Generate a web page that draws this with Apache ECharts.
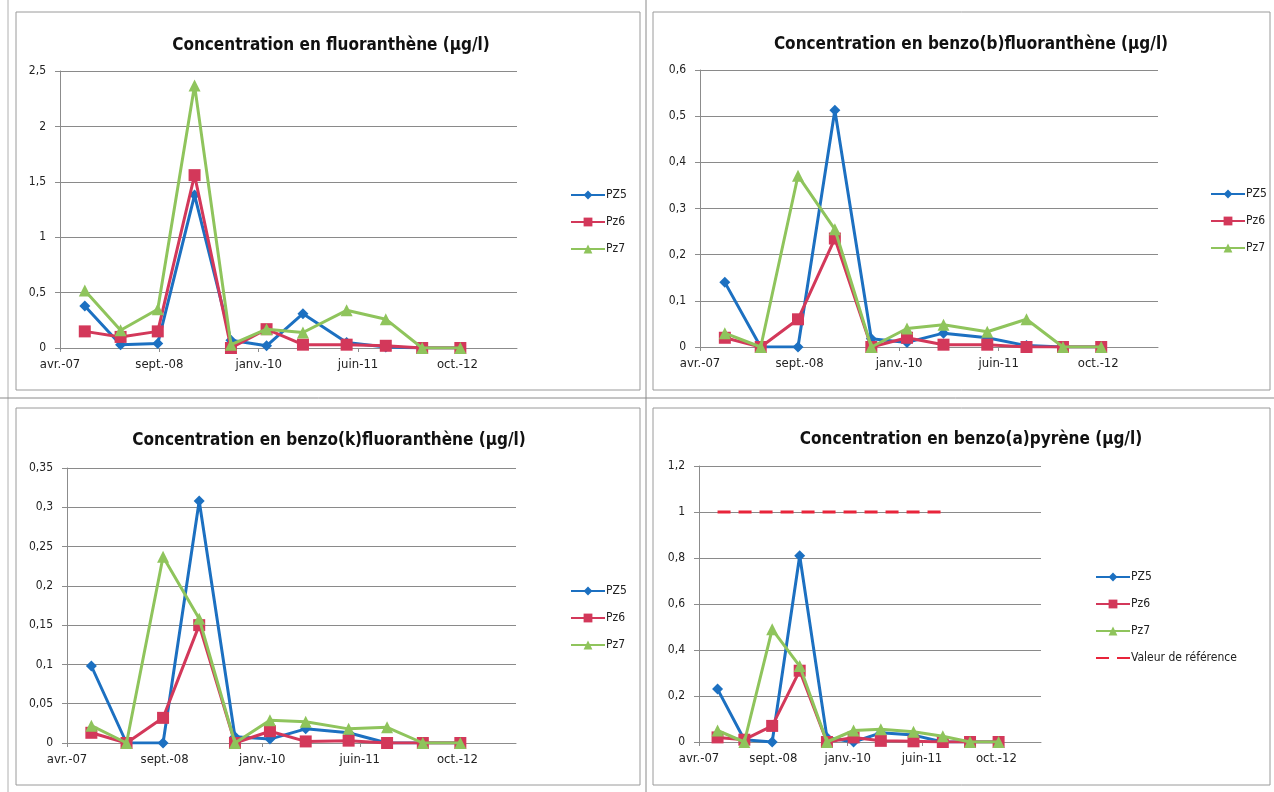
<!DOCTYPE html>
<html>
<head>
<meta charset="utf-8">
<script src="https://cdn.jsdelivr.net/npm/echarts@6/dist/echarts.min.js"></script>
<style>
html,body{margin:0;padding:0;background:#fff;}
#c{width:1274px;height:792px;}
</style>
</head>
<body>
<div id="c"></div>
<script>
// ---- data ----
var sampleDates = ['2007-08-22','2008-02-20','2008-08-27','2009-03-02','2009-09-03','2010-03-03','2010-09-04','2011-04-14','2011-10-30','2012-05-02','2012-11-12'];
var tickLabels = ['avr.-07','sept.-08','janv.-10','juin-11','oct.-12'];
var seriesNames = ['PZ5','Pz6','Pz7'];
var refName = 'Valeur de référence';

var titles = [
  'Concentration en fluoranthène (µg/l)',
  'Concentration en benzo(b)fluoranthène (µg/l)',
  'Concentration en benzo(k)fluoranthène (µg/l)',
  'Concentration en benzo(a)pyrène (µg/l)'
];

var fluoPZ5 = [0.38,0.03,0.04,1.38,0.07,0.02,0.31,0.05,0.01,0,0];
var fluoPz6 = [0.15,0.10,0.15,1.56,0.00,0.17,0.03,0.03,0.02,0,0];
var fluoPz7 = [0.52,0.16,0.35,2.37,0.03,0.17,0.14,0.34,0.26,0,0];

var bbPZ5 = [0.14,0,0,0.513,0.018,0.01,0.03,0.02,0.003,0,0];
var bbPz6 = [0.02,0,0.06,0.235,0,0.02,0.005,0.005,0,0,0];
var bbPz7 = [0.03,0,0.371,0.255,0,0.04,0.048,0.033,0.06,0,0];

var bkPZ5 = [0.098,0,0,0.308,0.008,0.005,0.018,0.013,0,0,0];
var bkPz6 = [0.013,0,0.032,0.150,0,0.015,0.002,0.003,0,0,0];
var bkPz7 = [0.022,0,0.237,0.158,0,0.029,0.027,0.018,0.02,0,0];

var baPZ5 = [0.23,0.01,0,0.81,0.02,0,0.04,0.03,0,0,0];
var baPz6 = [0.02,0.01,0.07,0.31,0,0.02,0.005,0.003,0,0,0];
var baPz7 = [0.05,0,0.49,0.33,0,0.05,0.055,0.045,0.025,0,0];
var baRef = [1,1,1,1,1,1,1,1,1];

var yMax = [2.5, 0.6, 0.35, 1.2];
var yInterval = [0.5, 0.1, 0.05, 0.2];

// ---- axis geometry (date axis in days from origin) ----
var originUTC = Date.UTC(2007,3,18);
var tickDays = 505;
var xMaxUnits = 4.6;
function toDays(s){var p=s.split('-');return (Date.UTC(+p[0],+p[1]-1,+p[2])-originUTC)/86400000;}
function pairs(vals){return vals.map(function(v,i){return [toDays(sampleDates[i]), v];});}

var colors = ['#1c70c1','#d3385a','#8fc45c'];
var symbols = ['diamond','rect','triangle'];
var symSizes = [11,12,12];

var panelData = [
  [fluoPZ5,fluoPz6,fluoPz7],
  [bbPZ5,bbPz6,bbPz7],
  [bkPZ5,bkPz6,bkPz7],
  [baPZ5,baPz6,baPz7]
];

var grids = [
  {left:60, top:71, width:457, height:277},
  {left:700, top:70, width:458, height:277},
  {left:67, top:468, width:449, height:275},
  {left:699, top:466, width:342, height:276}
];
var titlePos = [[326,32],[966,31],[324,427],[966,426]];
var legendPos = [[565,184],[1205,183],[565,580],[1090,566]];

var FONT = '"DejaVu Sans Condensed", "DejaVu Sans", sans-serif';

var option = {
  backgroundColor:'#ffffff',
  animation:false,
  title:[], grid:[], xAxis:[], yAxis:[], legend:[], series:[],
  graphic:[]
};

// frames
var frames = [
  [16,12,624,378],[653,12,617,378],[16,408,624,377],[653,408,617,377]
];
frames.forEach(function(f){
  option.graphic.push({type:'rect',silent:true,shape:{x:f[0],y:f[1],width:f[2],height:f[3]},style:{fill:'none',stroke:'#9a9a9a',lineWidth:1}});
});
option.graphic.push({type:'line',silent:true,shape:{x1:8,y1:0,x2:8,y2:792},style:{stroke:'#b0b0b0',lineWidth:1}});
option.graphic.push({type:'line',silent:true,shape:{x1:646,y1:0,x2:646,y2:792},style:{stroke:'#8a8a8a',lineWidth:1}});
option.graphic.push({type:'line',silent:true,shape:{x1:0,y1:398,x2:1274,y2:398},style:{stroke:'#8a8a8a',lineWidth:1}});

for (var k=0;k<4;k++){
  option.title.push({
    text:titles[k], left:titlePos[k][0], top:titlePos[k][1], textAlign:'center',
    textStyle:{fontFamily:FONT, fontSize:17, fontWeight:'bold', color:'#111'}
  });
  option.grid.push(grids[k]);
  option.xAxis.push({
    type:'value', gridIndex:k, min:0, max:tickDays*xMaxUnits, interval:tickDays,
    axisLine:{show:true,lineStyle:{color:'#8c8c8c',width:1}},
    axisTick:{show:true,length:4,lineStyle:{color:'#8c8c8c'}},
    splitLine:{show:false},
    axisLabel:{
      color:'#222', fontFamily:FONT, fontSize:13, margin:10, showMaxLabel:false,
      formatter:function(v){var i=v/tickDays; return (Math.abs(i-Math.round(i))<1e-6)?(tickLabels[Math.round(i)]||''):'';}
    }
  });
  option.yAxis.push({
    type:'value', gridIndex:k, min:0, max:yMax[k], interval:yInterval[k],
    axisLine:{show:true,lineStyle:{color:'#8c8c8c',width:1}},
    axisTick:{show:true,length:5,lineStyle:{color:'#8c8c8c'}},
    splitLine:{show:true,lineStyle:{color:'#8a8a8a',width:1}},
    axisLabel:{
      color:'#222', fontFamily:FONT, fontSize:12, margin:14,
      formatter:function(v){return String(+v.toFixed(3)).replace('.',',');}
    }
  });
  var legData = seriesNames.slice();
  if (k===3) legData.push({name:refName, itemStyle:{opacity:0}});
  option.legend.push({
    orient:'vertical', left:legendPos[k][0], top:legendPos[k][1], itemGap:15,
    itemWidth:34, itemHeight:11, data:legData, selectedMode:false,
    textStyle:{fontFamily:FONT, fontSize:12, color:'#222', padding:[0,0,0,-4]}
  });
  for (var s=0;s<3;s++){
    option.series.push({
      name:seriesNames[s], type:'line', xAxisIndex:k, yAxisIndex:k,
      data:pairs(panelData[k][s]),
      symbol:symbols[s], symbolSize:symSizes[s],
      lineStyle:{color:colors[s],width:3},
      itemStyle:{color:colors[s]},
      z:2+s
    });
  }
  if (k===3){
    option.series.push({
      name:refName, type:'line', xAxisIndex:k, yAxisIndex:k,
      data:pairs(baRef), symbol:'none', showSymbol:false,
      lineStyle:{color:'#e8243a',width:3,type:[13,8]},
      itemStyle:{color:'#e8243a'},
      z:6
    });
  }
}

var chart = echarts.init(document.getElementById('c'), null, {renderer:'canvas'});
chart.setOption(option);
</script>
</body>
</html>
